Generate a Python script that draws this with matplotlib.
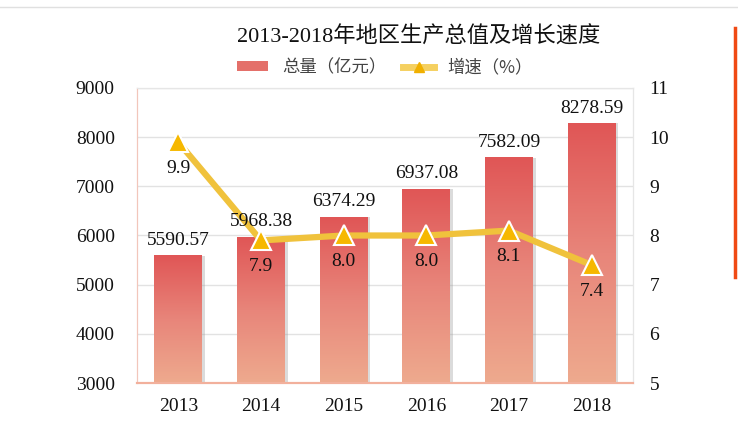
import numpy as np
import matplotlib.pyplot as plt
from matplotlib.colors import LinearSegmentedColormap
from matplotlib.patches import Patch
from matplotlib.lines import Line2D

years = ['2013', '2014', '2015', '2016', '2017', '2018']
total = [5590.57, 5968.38, 6374.29, 6937.08, 7582.09, 8278.59]
growth = [9.9, 7.9, 8.0, 8.0, 8.1, 7.4]

serif_cn = ['Liberation Serif', 'Noto Sans CJK SC']
plt.rcParams['font.family'] = serif_cn

fig = plt.figure(figsize=(7.38, 4.43), dpi=100)
ax = fig.add_axes([0.1856, 0.1354, 0.672, 0.666])
ax2 = ax.twinx()

x = np.arange(len(years))
bw = 0.58
grad = LinearSegmentedColormap.from_list('bar', ['#eeaa8e', '#e8857a', '#e05656'])
g = np.linspace(0, 1, 256).reshape(-1, 1)

for xi, v in zip(x, total):
    # soft shadow on the right side
    ax.bar(xi + 0.035, v - 3000, bottom=3000, width=bw, color='#9a9a9a', alpha=0.35, zorder=1)
    ax.imshow(g, cmap=grad, origin='lower', aspect='auto',
              extent=(xi - bw / 2, xi + bw / 2, 3000, v), zorder=2)
ax.set_xlim(-0.5, len(years) - 0.5)
ax.set_ylim(3000, 9000)

ax.set_yticks(range(3000, 9001, 1000))
ax.set_xticks(x)
ax.set_xticklabels(years)
ax.grid(axis='y', color='#e2e2e2', lw=1, zorder=0)
ax.set_axisbelow(True)
ax.tick_params(axis='y', length=0, pad=16, labelsize=14, labelcolor='#111111')
ax.tick_params(axis='x', length=0, pad=11, labelsize=14, labelcolor='#111111')

ax2.set_ylim(5, 11)
ax2.set_yticks(range(5, 12))
ax2.tick_params(axis='y', length=0, pad=12, labelsize=14, labelcolor='#111111')
ax2.plot(x, growth, color='#f0c23c', lw=4.5, solid_capstyle='round', zorder=3)
ax2.plot(x, growth, ls='none', marker='^', ms=15, mfc='#f6b800', mec='white', mew=1.5, zorder=4)
for xi, v in zip(x, growth):
    ax2.annotate(f'{v:.1f}', (xi, v), xytext=(0, -19), textcoords='offset points',
                 ha='center', va='center', fontsize=14, color='#111111', zorder=5)
# bar value labels drawn on the top axes so they sit above the line
for xi, v in zip(x, total):
    ax2.annotate(f'{v:.2f}', (xi, v), xycoords=ax.transData, xytext=(0, 5),
                 textcoords='offset points', ha='center', va='bottom',
                 fontsize=14, color='#111111', zorder=6)

for a in (ax, ax2):
    a.spines['top'].set_color('#e6e6e6')
    a.spines['right'].set_color('#e6e6e6')
    a.spines['left'].set_color('#f2c6bb')
    a.spines['bottom'].set_color('#f2b09c')
    a.spines['bottom'].set_linewidth(1.5)

fig.text(0.567, 0.917, '2013-2018年地区生产总值及增长速度', ha='center', va='center',
         fontsize=16, color='#111111')

handles = [Patch(facecolor='#e4706a', edgecolor='none'),
           Line2D([], [], color='#f5d060', lw=5, marker='^', ms=7, mfc='#f0b000', mec='#f0b000')]
fig.legend(handles, ['总量（亿元）', '增速（%）'], ncol=2, frameon=False,
           loc='center', bbox_to_anchor=(0.522, 0.848),
           handlelength=1.75, handleheight=0.5, columnspacing=1.0, handletextpad=0.8,
           labelcolor='#444444', prop={'family': ['Noto Sans CJK SC'], 'size': 12.5})

# page decorations
fig.add_artist(Line2D([0, 1], [0.984, 0.984], color='#e0e0e0', lw=1))
fig.add_artist(Line2D([0.9965, 0.9965], [0.375, 0.937], color='#f04a14', lw=2.5))

fig.savefig('out.png', dpi=100)
